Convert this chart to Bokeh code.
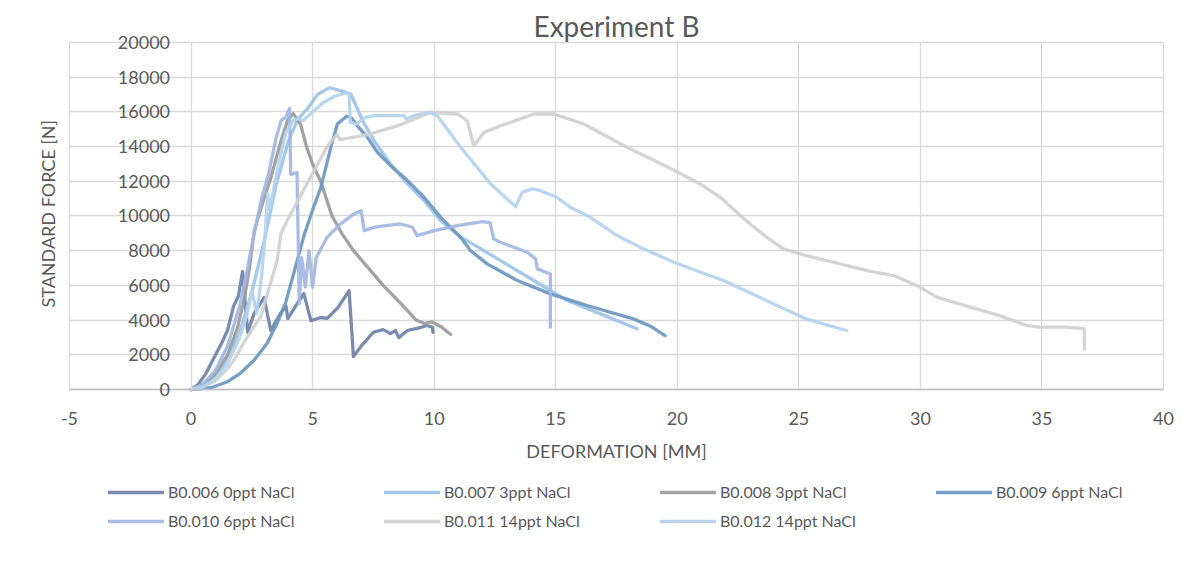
from bokeh.plotting import figure
from bokeh.models import (Range1d, FixedTicker, Legend, LegendItem, Title)
from bokeh.embed import file_html
from bokeh.resources import INLINE

# ---- data ----
x6 = [0, 0.3, 0.6, 0.95, 1.25, 1.5, 1.75, 1.95, 2.12, 2.33, 2.6, 3.0, 3.28, 3.6, 3.9, 3.98, 4.3, 4.64, 4.93, 5.34, 5.6, 6.04, 6.5, 6.68, 7.0, 7.5, 7.9, 8.2, 8.4, 8.55, 8.9, 9.24, 9.44, 9.7, 9.93, 9.95]
y6 = [0, 300, 900, 1850, 2650, 3400, 4800, 5400, 6800, 3300, 4400, 5300, 3400, 4200, 4840, 4090, 4800, 5530, 3970, 4150, 4100, 4720, 5700, 1900, 2500, 3300, 3450, 3220, 3400, 3000, 3400, 3510, 3570, 3690, 3590, 3300]

x7 = [0, 0.5, 1.0, 1.5, 2.0, 2.5, 3.0, 3.5, 4.0, 4.4, 4.8, 5.2, 5.7, 6.2, 6.57, 7.08, 7.53, 8.21, 8.9, 9.58, 10.27, 11.09, 11.36, 12.73, 14.1, 15.47, 16.84, 18.34]
y7 = [0, 200, 700, 1700, 3300, 5600, 8500, 11800, 14300, 15600, 16200, 17000, 17400, 17200, 17030, 15430, 14340, 13000, 11850, 10890, 9730, 8770, 8580, 7430, 6280, 5130, 4360, 3500]

x8 = [0, 0.5, 1.0, 1.5, 1.9, 2.2, 2.4, 2.6, 2.8, 3.0, 3.29, 3.7, 3.97, 4.2, 4.5, 4.75, 5.0, 5.33, 5.8, 6.2, 6.68, 7.3, 7.9, 8.6, 9.26, 9.6, 9.9, 10.3, 10.68]
y8 = [0, 300, 900, 2000, 3500, 5300, 7000, 9150, 10100, 11000, 12230, 14340, 15500, 15900, 15300, 14000, 13000, 12000, 10000, 9000, 8000, 7000, 6000, 5000, 4000, 3800, 3900, 3600, 3170]

x9 = [0, 0.82, 1.5, 2.04, 2.6, 3.13, 3.5, 3.88, 4.22, 4.65, 5.04, 5.34, 5.75, 6.02, 6.4, 6.6, 6.81, 7.22, 7.67, 8.21, 8.9, 9.58, 10.27, 11.09, 11.5, 12.18, 13.42, 14.78, 16.29, 18.2, 18.9, 19.5]
y9 = [0, 100, 450, 950, 1700, 2670, 3700, 4950, 6670, 8900, 10500, 11650, 13960, 15300, 15750, 15650, 15240, 14600, 13670, 12900, 12040, 11080, 9920, 8770, 8000, 7240, 6280, 5510, 4840, 4070, 3650, 3110]

x10 = [0, 0.5, 1.0, 1.5, 2.0, 2.3, 2.6, 2.9, 3.2, 3.5, 3.7, 3.9, 4.05, 4.1, 4.36, 4.45, 4.55, 4.7, 4.85, 5.0, 5.15, 5.59, 6.13, 6.68, 7.0, 7.12, 7.53, 8.0, 8.62, 9.1, 9.3, 10.0, 10.95, 12.0, 12.3, 12.45, 12.73, 13.83, 14.17, 14.24, 14.78, 14.78]
y10 = [0, 300, 1100, 2500, 4800, 6800, 9000, 11000, 12500, 14500, 15500, 15700, 16200, 12400, 12500, 4950, 7600, 5900, 8000, 5900, 7600, 8760, 9520, 10100, 10300, 9160, 9350, 9450, 9540, 9350, 8870, 9160, 9450, 9680, 9600, 8680, 8490, 7910, 7530, 6950, 6660, 3590]

x11 = [0, 0.5, 1.0, 1.5, 1.77, 2.3, 2.86, 3.2, 3.54, 3.7, 3.95, 4.4, 5.06, 5.6, 6.0, 6.13, 7.22, 8.58, 9.03, 9.86, 10.95, 11.36, 11.63, 12.05, 12.73, 14.1, 14.92, 16.15, 17.93, 19.85, 21.0, 21.77, 22.86, 23.68, 24.37, 25.3, 26.7, 27.8, 28.9, 30.0, 30.66, 32.3, 33.26, 34.36, 34.9, 36.0, 36.75, 36.75]
y11 = [0, 150, 500, 1200, 1710, 3000, 4190, 5800, 7430, 9000, 9710, 10900, 12600, 14000, 14700, 14400, 14670, 15240, 15500, 15970, 15880, 15490, 14050, 14820, 15200, 15880, 15880, 15300, 13960, 12650, 11800, 11080, 9700, 8770, 8100, 7720, 7240, 6850, 6570, 5890, 5320, 4650, 4260, 3690, 3590, 3590, 3500, 2340]

x12 = [0, 0.5, 1.0, 1.5, 2.0, 2.3, 2.5, 2.7, 2.9, 3.05, 3.15, 3.22, 3.35, 3.6, 3.9, 4.2, 4.4, 4.6, 5.0, 5.4, 5.9, 6.4, 6.5, 6.55, 6.8, 7.2, 7.53, 8.2, 8.76, 8.85, 9.2, 9.79, 10.13, 11.09, 12.32, 13.35, 13.62, 14.03, 14.37, 15.06, 15.6, 16.43, 17.52, 18.48, 19.85, 21.9, 23.95, 25.3, 26.7, 26.97]
y12 = [0, 150, 600, 1500, 3000, 4300, 5700, 4400, 6500, 9000, 11300, 10400, 11200, 13000, 14800, 15500, 15600, 15500, 16000, 16500, 16900, 17100, 17000, 15400, 15300, 15700, 15780, 15780, 15780, 15600, 15800, 15970, 15780, 13960, 11850, 10540, 11360, 11560, 11460, 11080, 10500, 9920, 8870, 8200, 7330, 6280, 4940, 4070, 3500, 3400]

labels = ["B0.006 0ppt NaCl", "B0.007 3ppt NaCl", "B0.008 3ppt NaCl", "B0.009 6ppt NaCl",
          "B0.010 6ppt NaCl", "B0.011 14ppt NaCl", "B0.012 14ppt NaCl"]
colors = ["#6e82a8", "#9dc3e6", "#9a9a9a", "#6b97bf", "#a2b6e1", "#d0d0d0", "#b4d2ee"]
xs = [x6, x7, x8, x9, x10, x11, x12]
ys = [y6, y7, y8, y9, y10, y11, y12]

x_ticks = [-5, 0, 5, 10, 15, 20, 25, 30, 35, 40]
y_ticks = [0, 2000, 4000, 6000, 8000, 10000, 12000, 14000, 16000, 18000, 20000]
x_min, x_max = -5, 40
y_min, y_max = 0, 20000

FONT = "Lato"
TXT = "#595959"
GRID = "#d9d9d9"

# The frame is a little larger than the data area (-5..40, 0..20000) so that the axes
# placed at x=0 / y=0, their labels and the legend all sit inside it; the grid lines and
# axis lines are bounded to the data area.
p = figure(width=1196, height=560,
           min_border_left=53, min_border_right=17, min_border_top=34, min_border_bottom=15,
           x_range=Range1d(-5.658, 40.658), y_range=Range1d(-8992, 20461),
           output_backend="svg", toolbar_location=None,
           title="Experiment B")
p.outline_line_color = None
p.background_fill_color = "white"
p.border_fill_color = "white"

p.title.align = "center"
p.title.text_font = FONT
p.title.text_font_size = "28px"
p.title.text_font_style = "normal"
p.title.text_color = TXT
p.title.standoff = -16

# x axis at y = 0
xa = p.xaxis[0]
xa.ticker = FixedTicker(ticks=x_ticks)
xa.fixed_location = 0
xa.bounds = (x_min, x_max)
xa.major_label_overrides = {t: str(t) for t in x_ticks}
xa.axis_label = "DEFORMATION [MM]"
xa.axis_label_text_font = FONT
xa.axis_label_text_font_size = "18px"
xa.axis_label_text_font_style = "normal"
xa.axis_label_text_color = TXT
xa.axis_label_standoff = 11
xa.major_label_text_font = FONT
xa.major_label_text_font_size = "18px"
xa.major_label_text_color = TXT
xa.major_label_standoff = 17
xa.major_tick_line_color = None
xa.minor_tick_line_color = None
xa.axis_line_color = "#bfbfbf"
xa.axis_line_width = 1.5

# y axis at x = 0
ya = p.yaxis[0]
ya.ticker = FixedTicker(ticks=y_ticks)
ya.fixed_location = 0
ya.bounds = (y_min, y_max)
ya.major_label_text_font = FONT
ya.major_label_text_font_size = "18px"
ya.major_label_text_color = TXT
ya.major_label_standoff = 15
ya.major_tick_line_color = None
ya.minor_tick_line_color = None
ya.axis_line_color = GRID

# y axis title on the left, positioned at the middle of the 0..20000 area
ytitle = Title(text="STANDARD FORCE [N]", align="left", offset=238,
               text_font=FONT, text_font_size="18px", text_font_style="normal",
               text_color=TXT, standoff=-11)
p.add_layout(ytitle, "left")

p.xgrid.ticker = FixedTicker(ticks=x_ticks)
p.ygrid.ticker = FixedTicker(ticks=y_ticks)
p.xgrid.grid_line_color = GRID
p.ygrid.grid_line_color = GRID
p.xgrid.grid_line_width = 1.3
p.ygrid.grid_line_width = 1.3
try:
    p.xgrid.cross_bounds = (y_min, y_max)
    p.ygrid.cross_bounds = (x_min, x_max)
except Exception:
    pass

items = []
for x, y, c, lab in zip(xs, ys, colors, labels):
    r = p.line(x, y, line_color=c, line_width=3.3, line_alpha=0.92,
               line_join="round", line_cap="round")
    items.append(LegendItem(label=lab, renderers=[r]))

legend = Legend(items=items, orientation="horizontal", ncols=4, location=(55, 15),
                padding=0, margin=0, spacing=10,
                glyph_width=56, glyph_height=18, label_height=18,
                label_width=206, label_standoff=4,
                label_text_font=FONT, label_text_font_size="16px", label_text_color=TXT,
                border_line_color=None, background_fill_alpha=0)
p.add_layout(legend, "center")

open("out.html", "w").write(file_html(p, INLINE))
